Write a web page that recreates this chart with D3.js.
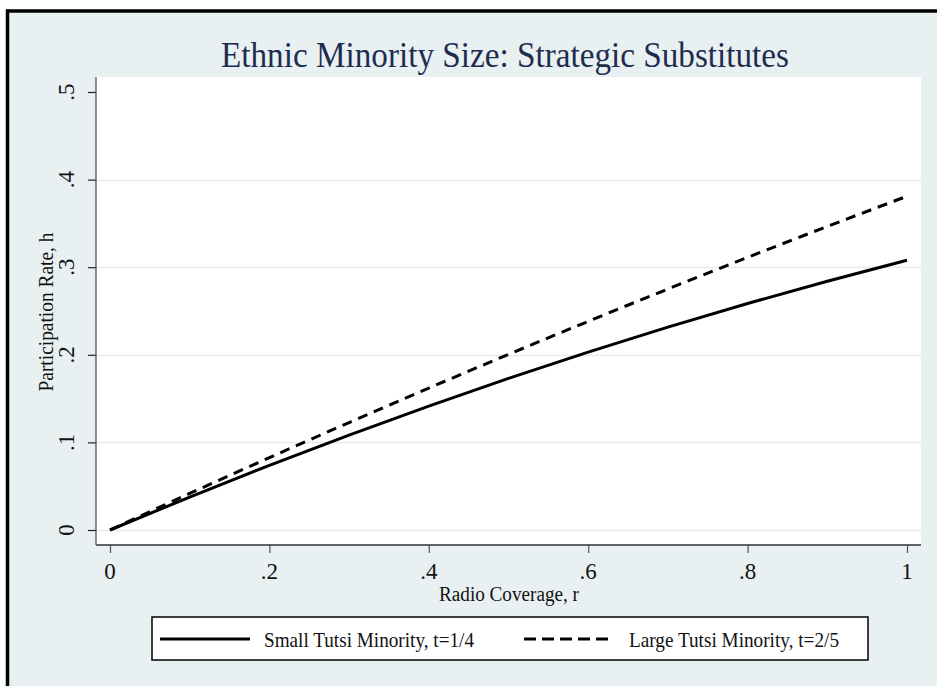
<!DOCTYPE html>
<html>
<head>
<meta charset="utf-8">
<script src="https://cdn.jsdelivr.net/npm/d3@7"></script>
<style>
  html, body { margin: 0; padding: 0; background: #ffffff; }
  svg { display: block; font-family: "Liberation Serif", "DejaVu Serif", serif; }
</style>
</head>
<body>
<div id="canvas"></div>
<script>
"use strict";

/**** DATA ****/
let coverage = [0, 0.1, 0.2, 0.3, 0.4, 0.5, 0.6, 0.7, 0.8, 0.9, 1];
let smallMinority = [0, 0.0376, 0.0738, 0.1084, 0.1414, 0.173, 0.203, 0.2316, 0.2586, 0.284, 0.308];
let largeMinority = [0, 0.0417, 0.0826, 0.1227, 0.162, 0.2005, 0.2382, 0.2751, 0.3112, 0.3465, 0.381];

let xTicks = [0, 0.2, 0.4, 0.6, 0.8, 1];
let xTickLabels = ["0", ".2", ".4", ".6", ".8", "1"];
let yTicks = [0, 0.1, 0.2, 0.3, 0.4, 0.5];
let yTickLabels = ["0", ".1", ".2", ".3", ".4", ".5"];
let gridTicks = [0, 0.1, 0.2, 0.3, 0.4];

let seriesNames = ["Small Tutsi Minority, t=1/4", "Large Tutsi Minority, t=2/5"];

/**** CONFIGURATION ****/
let svgWidth = 937;
let svgHeight = 686;

let plotLeft = 96;
let plotRight = 921;
let plotTop = 77;
let plotBottom = 545;

let bgColor = "#e9f0f2";
let gridColor = "#e4ecee";
let inkColor = "#111111";

let svg = d3.select("#canvas")
    .append("svg")
    .attr("width", svgWidth)
    .attr("height", svgHeight);

/**** BACKGROUND + FRAME ****/
svg.append("rect")
    .attr("x", 7.5)
    .attr("y", 11)
    .attr("width", svgWidth - 7.5)
    .attr("height", svgHeight - 11)
    .attr("fill", bgColor);

svg.append("line")
    .attr("x1", 7.5).attr("y1", 9.5)
    .attr("x2", 7.5).attr("y2", svgHeight)
    .attr("stroke", "black")
    .attr("stroke-width", 3.5);

svg.append("line")
    .attr("x1", 6).attr("y1", 11)
    .attr("x2", svgWidth).attr("y2", 11)
    .attr("stroke", "black")
    .attr("stroke-width", 3.5);

svg.append("rect")
    .attr("x", plotLeft)
    .attr("y", plotTop)
    .attr("width", plotRight - plotLeft)
    .attr("height", plotBottom - plotTop)
    .attr("fill", "white");

/**** SCALES ****/
let xScale = d3.scaleLinear()
    .domain([0, 1])
    .range([110, 907]);

let yScale = d3.scaleLinear()
    .domain([0, 0.5])
    .range([530, 92]);

/**** GRID ****/
svg.selectAll("line.grid")
    .data(gridTicks)
    .join("line")
    .attr("class", "grid")
    .attr("x1", plotLeft + 1)
    .attr("x2", plotRight)
    .attr("y1", function(d) { return Math.round(yScale(d)) + 0.5; })
    .attr("y2", function(d) { return Math.round(yScale(d)) + 0.5; })
    .attr("stroke", gridColor)
    .attr("stroke-width", 1.5);

/**** TITLE ****/
// the original text is a bit narrower than Liberation Serif, so squeeze it
svg.append("text")
    .attr("x", 505)
    .attr("y", 67)
    .attr("text-anchor", "middle")
    .attr("fill", "#1e2d4f")
    .attr("textLength", 568)
    .attr("lengthAdjust", "spacingAndGlyphs")
    .style("font-size", "36px")
    .text("Ethnic Minority Size: Strategic Substitutes");

/**** AXES ****/
let yAxis = d3.axisLeft(yScale)
    .tickValues(yTicks)
    .tickSize(8)
    .tickFormat("");

let yAxisG = svg.append("g")
    .attr("transform", `translate(${plotLeft},0)`)
    .call(yAxis);
yAxisG.select(".domain").remove();
yAxisG.selectAll(".tick line").attr("stroke", "#222").attr("stroke-width", 1.2);

let xAxis = d3.axisBottom(xScale)
    .tickValues(xTicks)
    .tickSize(8)
    .tickFormat("");

let xAxisG = svg.append("g")
    .attr("transform", `translate(0,${plotBottom})`)
    .call(xAxis);
xAxisG.select(".domain").remove();
xAxisG.selectAll(".tick line").attr("stroke", "#555").attr("stroke-width", 1.2);

// axis lines span the whole plot region
svg.append("line")
    .attr("x1", plotLeft).attr("y1", plotTop)
    .attr("x2", plotLeft).attr("y2", plotBottom)
    .attr("stroke", "#555")
    .attr("stroke-width", 1.3);

svg.append("line")
    .attr("x1", plotLeft).attr("y1", plotBottom)
    .attr("x2", plotRight).attr("y2", plotBottom)
    .attr("stroke", "#333")
    .attr("stroke-width", 1.3);

/**** TICK LABELS ****/
for (let i = 0; i < yTicks.length; i++) {
    svg.append("text")
        .attr("transform", `translate(74,${yScale(yTicks[i])}) rotate(-90)`)
        .attr("text-anchor", "middle")
        .attr("fill", inkColor)
        .style("font-size", "23px")
        .text(yTickLabels[i]);
}

for (let i = 0; i < xTicks.length; i++) {
    svg.append("text")
        .attr("x", xScale(xTicks[i]))
        .attr("y", 579)
        .attr("text-anchor", "middle")
        .attr("fill", inkColor)
        .style("font-size", "23px")
        .text(xTickLabels[i]);
}

/**** AXIS TITLES ****/
svg.append("text")
    .attr("x", 509)
    .attr("y", 601)
    .attr("text-anchor", "middle")
    .attr("fill", inkColor)
    .attr("textLength", 140)
    .attr("lengthAdjust", "spacingAndGlyphs")
    .style("font-size", "20px")
    .text("Radio Coverage, r");

svg.append("text")
    .attr("transform", `translate(53,${(plotTop + plotBottom) / 2 + 1}) rotate(-90)`)
    .attr("text-anchor", "middle")
    .attr("fill", inkColor)
    .attr("textLength", 159)
    .attr("lengthAdjust", "spacingAndGlyphs")
    .style("font-size", "21px")
    .text("Participation Rate, h");

/**** LINES ****/
let line = d3.line()
    .x(function(d) { return xScale(d[0]); })
    .y(function(d) { return yScale(d[1]); })
    .curve(d3.curveMonotoneX);

let smallPts = d3.zip(coverage, smallMinority);
let largePts = d3.zip(coverage, largeMinority);

svg.append("path")
    .datum(largePts)
    .attr("d", line)
    .attr("fill", "none")
    .attr("stroke", "black")
    .attr("stroke-width", 3)
    .attr("stroke-dasharray", "10,7");

svg.append("path")
    .datum(smallPts)
    .attr("d", line)
    .attr("fill", "none")
    .attr("stroke", "black")
    .attr("stroke-width", 3);

/**** LEGEND ****/
svg.append("rect")
    .attr("x", 152)
    .attr("y", 617)
    .attr("width", 716)
    .attr("height", 43)
    .attr("fill", "white")
    .attr("stroke", "black")
    .attr("stroke-width", 1.5);

let legendItems = [
    { name: seriesNames[0], x1: 160, x2: 250, textX: 264, dash: null },
    { name: seriesNames[1], x1: 524, x2: 608, textX: 629, dash: "12,6" }
];

for (let i = 0; i < legendItems.length; i++) {
    svg.append("line")
        .attr("x1", legendItems[i].x1)
        .attr("x2", legendItems[i].x2)
        .attr("y1", 639)
        .attr("y2", 639)
        .attr("stroke", "black")
        .attr("stroke-width", 3)
        .attr("stroke-dasharray", legendItems[i].dash);

    svg.append("text")
        .attr("x", legendItems[i].textX)
        .attr("y", 647)
        .attr("fill", inkColor)
        .attr("textLength", 210)
        .attr("lengthAdjust", "spacingAndGlyphs")
        .style("font-size", "21px")
        .text(legendItems[i].name);
}
</script>
</body>
</html>
